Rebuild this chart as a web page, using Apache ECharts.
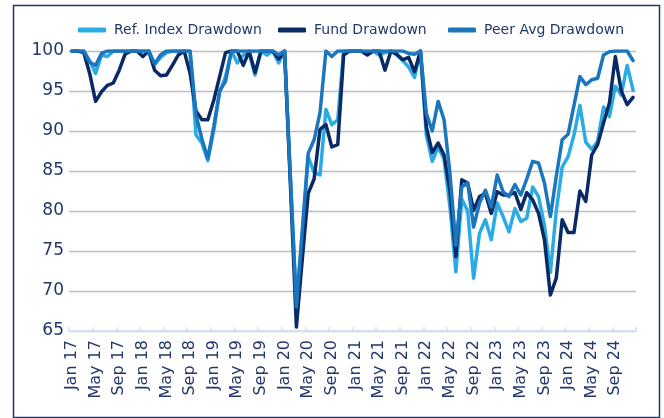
<!DOCTYPE html>
<html>
<head>
<meta charset="utf-8">
<script src="https://cdn.jsdelivr.net/npm/echarts@6/dist/echarts.min.js"></script>
<style>
html,body{margin:0;padding:0;background:#fff;}
#chart{width:664px;height:418px;}
</style>
</head>
<body>
<div id="chart"></div>
<script>
var monthNames = ['Jan','Feb','Mar','Apr','May','Jun','Jul','Aug','Sep','Oct','Nov','Dec'];
var years = ['17','18','19','20','21','22','23','24'];
var categories = [];
years.forEach(function (y) { monthNames.forEach(function (m) { categories.push(m + ' ' + y); }); });

var seriesNames = ['Ref. Index Drawdown', 'Fund Drawdown', 'Peer Avg Drawdown'];

var refIndex = [
  100, 100, 100, 98.8, 97.2, 99.5, 99.3, 100, 100, 100, 100, 100,
  100, 100, 98.3, 99.2, 99.8, 100, 100, 100, 100, 89.5, 88.5, 86.3,
  90, 94.8, 96.8, 100, 98.5, 99.5, 99.7, 97, 100, 99.5, 100, 98.5,
  100, 84, 68.5, 77, 86.8, 84.8, 84.5, 92.7, 90.8, 91.4, 100, 100,
  100, 100, 99.6, 100, 99.5, 99.8, 100, 99.5, 98.8, 98, 96.7, 100,
  89.5, 86.2, 88, 86.5, 80.5, 72.4, 81.5, 80, 71.6, 77.2, 78.9, 76.4,
  81, 79.3, 77.4, 80.3, 78.7, 79.1, 83, 81.8, 78.2, 72.3, 80, 85.5,
  86.8, 89.5, 93.2, 88.6, 87.7, 88.7, 93, 91.8, 95.6, 94.5, 98.2, 95.1
];
var fund = [
  100, 100, 99.8, 97.2, 93.7, 94.9, 95.7, 96, 97.6, 99.6, 100, 100,
  99.3, 100, 97.6, 96.9, 97, 98.2, 99.5, 100, 97.2, 92.5, 91.4, 91.4,
  93.8, 96.8, 99.8, 100, 100, 98.2, 100, 97.3, 100, 100, 100, 99,
  100, 83, 65.5, 74, 82.2, 84, 90.2, 90.8, 88, 88.3, 99.5, 100,
  100, 100, 99.5, 100, 100, 97.6, 100, 99.6, 98.9, 99.2, 97.4, 100,
  90.5, 87.3, 88.5, 87, 82.5, 74.3, 83.9, 83.5, 80.1, 81.8, 82.2, 79.7,
  82.4, 82, 82, 82.3, 80.2, 82.3, 81.4, 79.7, 76.4, 69.5, 71.6, 78.9,
  77.3, 77.3, 82.5, 81.2, 87, 88.3, 91, 93.5, 99.3, 95, 93.3, 94.2
];
var peerAvg = [
  100, 100, 100, 98.6, 98.2, 99.7, 100, 100, 100, 100, 100, 100,
  100, 100, 98.4, 99.5, 100, 100, 100, 100, 100, 92, 89, 86.6,
  90.5, 95, 96.2, 100, 100, 100, 100, 100, 100, 100, 100, 99.5,
  100, 84, 68, 77.6, 87.2, 88.9, 92.3, 100, 99.3, 100, 100, 100,
  100, 100, 100, 100, 100, 100, 100, 100, 100, 99.7, 99.6, 100,
  92.2, 90, 93.7, 91.4, 84.7, 75.7, 83, 83.5, 78, 81, 82.6, 80.5,
  84.5, 82.4, 81.8, 83.3, 82, 84, 86.2, 86, 83.5, 79.3, 84.3, 88.9,
  89.6, 93.2, 96.8, 95.8, 96.4, 96.6, 99.5, 99.9, 100, 100, 100, 98.8
];

var yMin = 65, yMax = 100, yStep = 5;
var colors = ['#2AACE2', '#0A2A66', '#1C76BD'];
var textColor = '#22386A';
var fontFam = '"DejaVu Sans", sans-serif';

var chart = echarts.init(document.getElementById('chart'), null, {renderer: 'canvas'});

function mkSeries(name, data, color) {
  return {
    name: name, type: 'line', data: data, showSymbol: false, symbol: 'none',
    smooth: false, animation: false,
    lineStyle: {color: color, width: 3.5, cap: 'round', join: 'round'},
    itemStyle: {color: color}
  };
}

function mkLegend(name, left) {
  return {
    left: left, top: 18, itemWidth: 28, itemHeight: 5, itemGap: 0,
    icon: 'roundRect', selectedMode: false,
    textStyle: {color: textColor, fontSize: 14, fontFamily: fontFam, padding: [0, 0, 0, 3]},
    data: [name]
  };
}

chart.setOption({
  animation: false,
  backgroundColor: '#ffffff',
  color: colors,
  graphic: [{
    type: 'rect', left: 11, top: 3, silent: true,
    shape: {width: 646, height: 412},
    style: {fill: 'none', stroke: '#1F3864', lineWidth: 1.5}
  }],
  legend: [
    mkLegend(seriesNames[0], 73),
    mkLegend(seriesNames[1], 273),
    mkLegend(seriesNames[2], 443)
  ],
  grid: {left: 69, right: 28, top: 51, bottom: 87, containLabel: false},
  xAxis: {
    type: 'category', data: categories, boundaryGap: true,
    axisLine: {lineStyle: {color: '#D3E0F3', width: 2}},
    axisTick: {show: true, interval: 3, inside: true, length: 4, lineStyle: {color: '#D3E0F3', width: 1.5}},
    axisLabel: {interval: 3, rotate: 90, margin: 9, color: textColor, fontSize: 16, fontFamily: fontFam},
    splitLine: {show: false}
  },
  yAxis: {
    type: 'value', min: yMin, max: yMax, interval: yStep,
    axisLine: {show: false}, axisTick: {show: false},
    axisLabel: {margin: 5, color: textColor, fontSize: 17, fontFamily: fontFam},
    splitLine: {lineStyle: {color: '#BDBDBD', width: 1.3}}
  },
  series: [
    mkSeries(seriesNames[0], refIndex, colors[0]),
    mkSeries(seriesNames[1], fund, colors[1]),
    mkSeries(seriesNames[2], peerAvg, colors[2])
  ]
});
</script>
</body>
</html>
